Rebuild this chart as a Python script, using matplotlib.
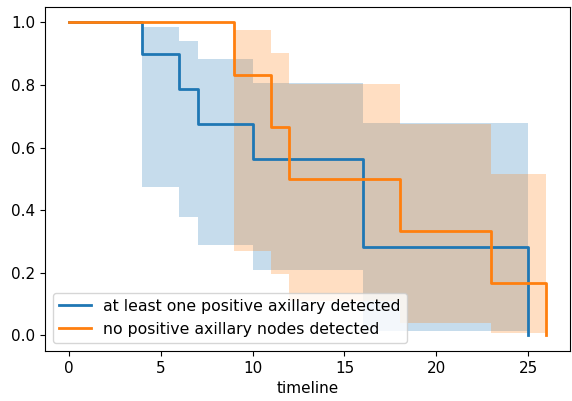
import numpy as np
import matplotlib
matplotlib.use("Agg")
import matplotlib.pyplot as plt

# ----------------------------
# KAPLAN-MEIER ESTIMATES
# ----------------------------
pos_label = "at least one positive axillary detected"
pos_times = [0, 4, 6, 7, 10, 16, 25]
pos_surv = [1.0, 0.9, 0.7875, 0.675, 0.5625, 0.28125, 0.0]
pos_lower = [1.0, 0.473, 0.378, 0.29, 0.207, 0.012, 0.012]
pos_upper = [1.0, 0.985, 0.94, 0.882, 0.807, 0.677, 0.677]

neg_label = "no positive axillary nodes detected"
neg_times = [0, 9, 11, 12, 18, 23, 26]
neg_surv = [1.0, 0.8333, 0.6667, 0.5, 0.3333, 0.1667, 0.0]
neg_lower = [1.0, 0.27, 0.195, 0.111, 0.04, 0.006, 0.006]
neg_upper = [1.0, 0.975, 0.903, 0.804, 0.676, 0.515, 0.515]

fig = plt.figure(figsize=(5.72, 4.01), dpi=100)
ax = fig.add_axes([0.079, 0.125, 0.918, 0.858])

groups = [
    (pos_label, pos_times, pos_surv, pos_lower, pos_upper, "#1f77b4"),
    (neg_label, neg_times, neg_surv, neg_lower, neg_upper, "#ff7f0e"),
]

for label, t, s, lo, hi, c in groups:
    ax.fill_between(t, lo, hi, step="post", color=c, alpha=0.25, linewidth=0)
    ax.step(t, s, where="post", color=c, lw=2.0, label=label)

ax.set_xticks([0, 5, 10, 15, 20, 25])
ax.set_yticks([0.0, 0.2, 0.4, 0.6, 0.8, 1.0])
ax.tick_params(labelsize=11)
ax.set_xlabel("timeline", fontsize=11)
ax.legend(loc="lower left", fontsize=11.3)

fig.savefig("out.png", dpi=100)
